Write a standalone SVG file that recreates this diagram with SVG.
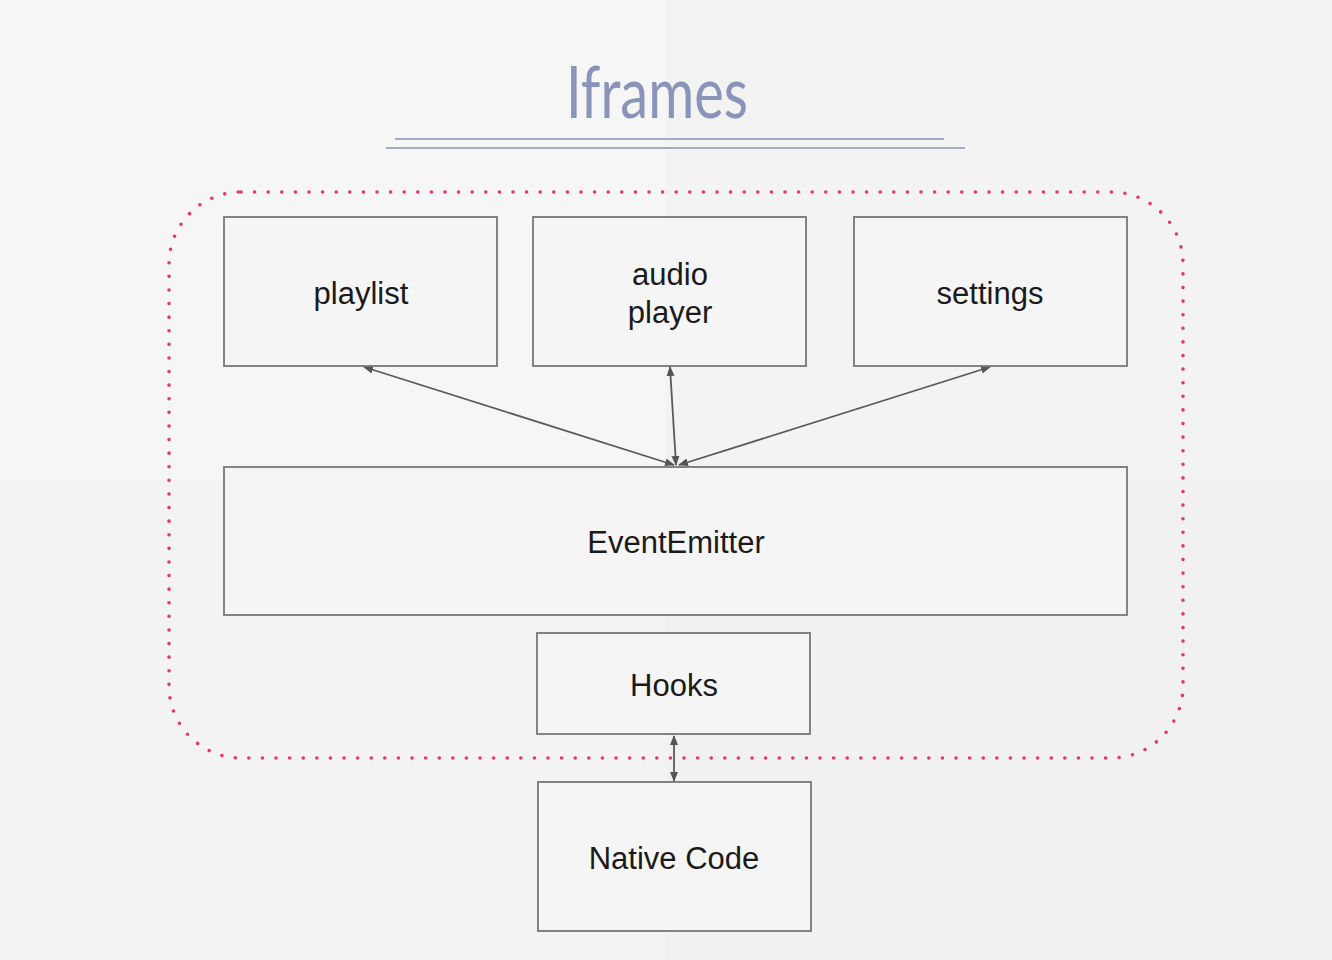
<svg xmlns="http://www.w3.org/2000/svg" width="1332" height="960" viewBox="0 0 1332 960">
<style>
.box{fill:#f5f5f5;stroke:#777;stroke-width:1.8}
.lbl{font-family:"Liberation Sans",Arial,sans-serif;font-size:31px;fill:#1a1a1a;text-anchor:middle}
.con{stroke:#5a5a5a;stroke-width:1.8;fill:none;marker-start:url(#ah);marker-end:url(#ah)}
</style>
<defs>
<marker id="ah" viewBox="0 0 10 10" refX="9" refY="5" markerWidth="10" markerHeight="10" markerUnits="userSpaceOnUse" orient="auto-start-reverse">
<path d="M0,1 L10,5 L0,9 z" fill="#555"/>
</marker>
</defs>
<rect x="0" y="0" width="1332" height="960" fill="#f3f3f3"/>
<rect x="0" y="0" width="666" height="480" fill="#f6f6f6"/>
<rect x="666" y="480" width="666" height="480" fill="#f1f1f1"/>
<g id="title">
<text x="657" y="118" font-family="Lato, 'DejaVu Sans', sans-serif" font-weight="400" font-size="72" fill="#8a93b9" text-anchor="middle" textLength="182" lengthAdjust="spacingAndGlyphs">Iframes</text>
<line x1="395" y1="139" x2="944" y2="139" stroke="#a4abca" stroke-width="2.2"/>
<line x1="386" y1="148" x2="965" y2="148" stroke="#a4abca" stroke-width="2.2"/>
</g>
<g id="iframe-boundary">
<rect x="169" y="192" width="1014" height="566" rx="72" ry="72" fill="none" stroke="#e8336b" stroke-width="3.6" stroke-dasharray="0 13.6" stroke-linecap="round"/>
</g>
<g id="connectors">
<line class="con" x1="364" y1="367" x2="674" y2="465"/>
<line class="con" x1="670" y1="367" x2="676" y2="465"/>
<line class="con" x1="990" y1="367" x2="679" y2="465"/>
<line class="con" x1="674" y1="736" x2="674" y2="781"/>
</g>
<g id="playlist">
<rect class="box" x="224" y="217" width="273" height="149"/>
<text class="lbl" x="361" y="304">playlist</text>
</g>
<g id="audio-player">
<rect class="box" x="533" y="217" width="273" height="149"/>
<text class="lbl" x="670" y="285">audio</text>
<text class="lbl" x="670" y="323">player</text>
</g>
<g id="settings">
<rect class="box" x="854" y="217" width="273" height="149"/>
<text class="lbl" x="990" y="304">settings</text>
</g>
<g id="event-emitter">
<rect class="box" x="224" y="467" width="903" height="148"/>
<text class="lbl" x="676" y="553">EventEmitter</text>
</g>
<g id="hooks">
<rect class="box" x="537" y="633" width="273" height="101"/>
<text class="lbl" x="674" y="696">Hooks</text>
</g>
<g id="native-code">
<rect class="box" x="538" y="782" width="273" height="149"/>
<text class="lbl" x="674" y="869">Native Code</text>
</g>
</svg>
